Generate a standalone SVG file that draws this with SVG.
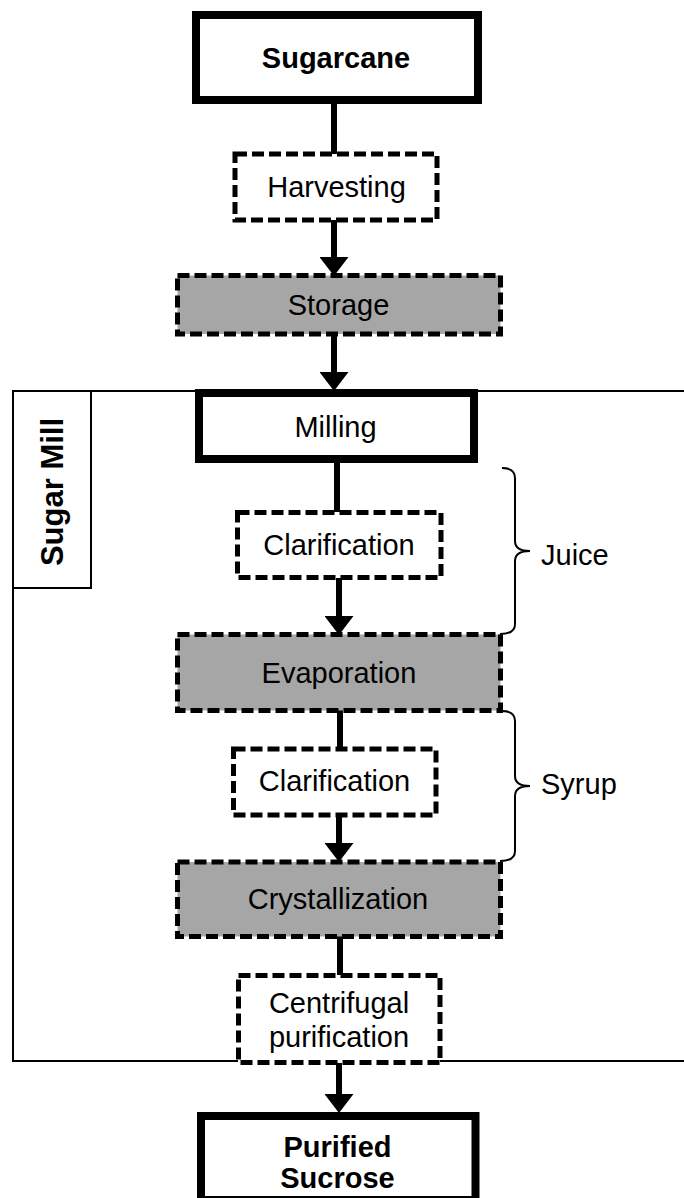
<svg xmlns="http://www.w3.org/2000/svg" width="684" height="1198" viewBox="0 0 684 1198">
<defs>
<style>
.t{font-family:"Liberation Sans",Arial,sans-serif;font-size:29px;fill:#000;text-anchor:middle}
.b{font-weight:bold}
.solid{fill:#fff;stroke:#000;stroke-width:8}
.dash{fill:#fff;stroke:#000;stroke-width:5;stroke-dasharray:12 5}
.gray{fill:#a6a6a6}
.conn{stroke:#000;stroke-width:6;fill:none}
.thin{stroke:#000;stroke-width:2;fill:none}
</style>
<marker id="ah" viewBox="0 0 19 29" markerWidth="19" markerHeight="29" refX="0" refY="14.5" orient="auto" markerUnits="userSpaceOnUse">
<path d="M0,0 L19,14.5 L0,29 z" fill="#000"/>
</marker>
</defs>
<rect width="684" height="1198" fill="#fff"/>
<g id="sugar-mill">
<path class="thin" d="M684,391 L13,391 L13,1061 L238,1061 M440,1061 L684,1061"/>
<rect x="13" y="391" width="78" height="197" fill="#fff" stroke="#000" stroke-width="2"/>
<text class="t b" font-size="31" style="font-size:31px" transform="translate(63,492) rotate(-90)">Sugar Mill</text>
</g>
<g id="connectors">
<line class="conn" x1="334" y1="100" x2="334" y2="154"/>
<line class="conn" x1="334" y1="220" x2="334" y2="257" marker-end="url(#ah)"/>
<line class="conn" x1="334" y1="334" x2="334" y2="372" marker-end="url(#ah)"/>
<line class="conn" x1="337" y1="459" x2="337" y2="512"/>
<line class="conn" x1="339" y1="578" x2="339" y2="616" marker-end="url(#ah)"/>
<line class="conn" x1="340" y1="710" x2="340" y2="749"/>
<line class="conn" x1="339" y1="815" x2="339" y2="843" marker-end="url(#ah)"/>
<line class="conn" x1="340" y1="936" x2="340" y2="975"/>
<line class="conn" x1="339" y1="1063" x2="339" y2="1094" marker-end="url(#ah)"/>
</g>
<g id="sugarcane">
<rect class="solid" x="196" y="15" width="282" height="85"/>
<text class="t b" x="336" y="68">Sugarcane</text>
</g>
<g id="harvesting">
<rect class="dash" x="235" y="154" width="202" height="66"/>
<text class="t" x="336.5" y="197">Harvesting</text>
</g>
<g id="storage">
<rect class="dash gray" x="177.5" y="275.5" width="323" height="58.5"/>
<text class="t" x="338.5" y="315">Storage</text>
</g>
<g id="milling">
<rect class="solid" x="199" y="393" width="275" height="66"/>
<text class="t" x="335.5" y="437">Milling</text>
</g>
<g id="clarification-1">
<rect class="dash" x="237.5" y="512.5" width="203.5" height="65"/>
<text class="t" x="339" y="555">Clarification</text>
</g>
<g id="evaporation">
<rect class="dash gray" x="177.5" y="634.5" width="323" height="76"/>
<text class="t" x="339" y="683">Evaporation</text>
</g>
<g id="clarification-2">
<rect class="dash" x="233.5" y="749" width="202.5" height="66"/>
<text class="t" x="334.5" y="791">Clarification</text>
</g>
<g id="crystallization">
<rect class="dash gray" x="177.5" y="862" width="323" height="74.5"/>
<text class="t" x="338" y="909">Crystallization</text>
</g>
<g id="centrifugal">
<rect class="dash" x="238.5" y="975.5" width="201.5" height="87"/>
<text class="t" x="339" y="1013">Centrifugal</text>
<text class="t" x="339" y="1047">purification</text>
</g>
<g id="purified-sucrose">
<rect class="solid" x="201" y="1116" width="274.5" height="84"/>
<text class="t b" x="337.5" y="1157">Purified</text>
<text class="t b" x="337.5" y="1188">Sucrose</text>
</g>
<g id="juice">
<path class="thin" d="M502,468 Q515,468 515,478 L515,541 Q515,551 530,551 Q515,551 515,561 L515,624 Q515,634 500,634"/>
<text class="t" style="text-anchor:start" x="541" y="565">Juice</text>
</g>
<g id="syrup">
<path class="thin" d="M502,711 Q515,711 515,721 L515,776 Q515,786 530,786 Q515,786 515,796 L515,851 Q515,861 500,861"/>
<text class="t" style="text-anchor:start" x="541" y="794">Syrup</text>
</g>
</svg>
